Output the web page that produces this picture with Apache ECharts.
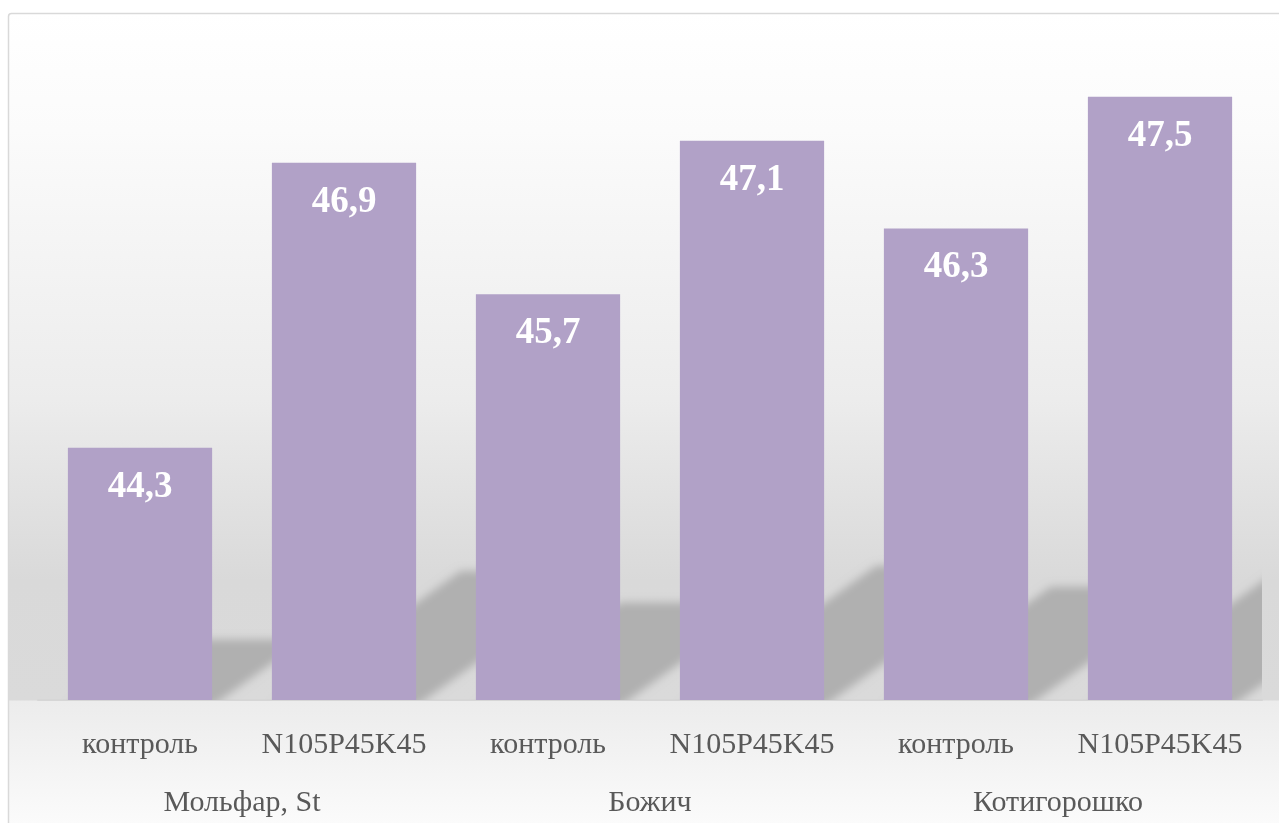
<!DOCTYPE html>
<html>
<head>
<meta charset="utf-8">
<script src="https://cdn.jsdelivr.net/npm/echarts@6/dist/echarts.min.js"></script>
<style>
  html, body { margin: 0; padding: 0; background: #ffffff; }
  #chart { width: 1279px; height: 823px; }
</style>
</head>
<body>
<div id="chart"></div>
<script>
// Treatments under each variety
const treatments = ['контроль', 'N105P45K45', 'контроль', 'N105P45K45', 'контроль', 'N105P45K45'];
// Variety names (one per pair of bars)
const varieties = ['Мольфар, St', 'Божич', 'Котигорошко'];
// Measured values
const values = [44.3, 46.9, 45.7, 47.1, 46.3, 47.5];

const AXIS_MIN = 42;
const AXIS_MAX = 48;
const BAR_RATIO = 0.707;
const serif = '"Liberation Serif", "DejaVu Serif", "Times New Roman", serif';

const chart = echarts.init(document.getElementById('chart'), null, { renderer: 'canvas' });

// Soft slanted floor shadow cast behind each bar.
// The polygon is drawn far to the side and only its blurred canvas shadow
// is moved back into place, which gives the shape soft edges.
const SHIFT = 3000;
function renderShadow(params, api) {
  const idx = api.value(0);
  const top = api.coord([idx, api.value(1)]);
  const base = api.coord([idx, AXIS_MIN]);
  const w = api.size([1, 0])[0] * BAR_RATIO;
  const xl = base[0] - w / 2;
  const xr = base[0] + w / 2;
  const y0 = base[1] + 6;
  const sh = (base[1] - top[1]) * 0.24 + 6;
  const dx = sh * 1.4;
  return {
    type: 'polygon',
    shape: {
      points: [
        [xl + SHIFT, y0], [xr + SHIFT, y0],
        [xr + dx + SHIFT, y0 - sh], [xl + dx + SHIFT, y0 - sh]
      ]
    },
    style: {
      fill: '#b0b0b0',
      shadowBlur: 9,
      shadowColor: '#b0b0b0',
      shadowOffsetX: -SHIFT,
      shadowOffsetY: 0
    }
  };
}

// Background gradient given as (y pixel, colour) pairs over the chart box
const BOX_TOP = 13.5, BOX_H = 812;
const bgStops = [[14, '#ffffff'], [130, '#fbfbfb'], [400, '#ececec'], [580, '#d9d9d9'],
                 [699, '#dadada'], [701, '#ececec'], [823, '#fbfbfb']]
  .map(([y, c]) => ({ offset: (y - BOX_TOP) / BOX_H, color: c }));

const option = {
  animation: false,
  backgroundColor: '#ffffff',
  graphic: [
    {
      type: 'rect',
      z: -10,
      silent: true,
      shape: { x: 8.5, y: BOX_TOP, width: 1290, height: BOX_H, r: 3 },
      style: {
        fill: new echarts.graphic.LinearGradient(0, 0, 0, 1, bgStops),
        stroke: '#d9d9d9',
        lineWidth: 1.5
      }
    }
  ],
  grid: { left: 38, right: 17, top: 42, bottom: 123, containLabel: false },
  xAxis: [
    {
      type: 'category',
      data: treatments,
      axisLine: { show: true, lineStyle: { color: '#d6d6d6', width: 2 } },
      axisTick: { show: false },
      axisLabel: {
        interval: 0,
        margin: 30,
        color: '#595959',
        fontFamily: serif,
        fontSize: 30
      }
    },
    {
      type: 'category',
      position: 'bottom',
      offset: 58,
      data: varieties,
      axisLine: { show: false },
      axisTick: { show: false },
      axisLabel: {
        interval: 0,
        margin: 30,
        color: '#595959',
        fontFamily: serif,
        fontSize: 30
      }
    }
  ],
  yAxis: {
    type: 'value',
    min: AXIS_MIN,
    max: AXIS_MAX,
    show: false,
    splitLine: { show: false }
  },
  series: [
    {
      type: 'custom',
      xAxisIndex: 0,
      z: 1,
      clip: true,
      silent: true,
      renderItem: renderShadow,
      data: values.map((v, i) => [i, v])
    },
    {
      type: 'bar',
      xAxisIndex: 0,
      z: 3,
      barWidth: (BAR_RATIO * 100) + '%',
      data: values,
      itemStyle: { color: '#b1a1c7' },
      label: {
        show: true,
        position: 'insideTop',
        distance: 21,
        color: '#ffffff',
        fontFamily: serif,
        fontWeight: 'bold',
        fontSize: 37,
        formatter: p => String(p.value).replace('.', ',')
      }
    }
  ]
};

chart.setOption(option);
</script>
</body>
</html>
